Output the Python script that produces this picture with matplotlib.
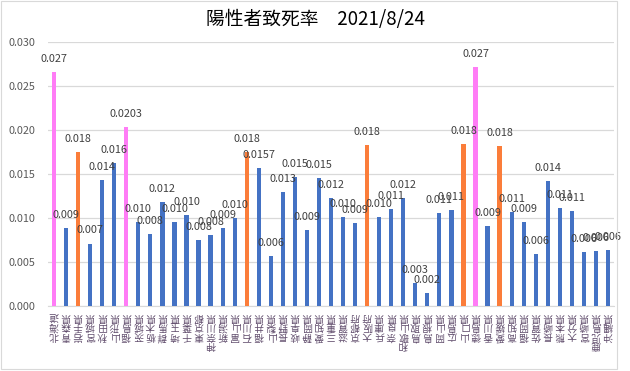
import matplotlib.pyplot as plt
from matplotlib.patches import Rectangle

plt.rcParams['font.family'] = ['Noto Sans CJK JP', 'DejaVu Sans']

prefs = ['北海道', '青森県', '岩手県', '宮城県', '秋田県', '山形県', '福島県',
         '茨城県', '栃木県', '群馬県', '埼玉県', '千葉県', '東京都', '神奈川県',
         '新潟県', '富山県', '石川県', '福井県', '山梨県', '長野県', '岐阜県',
         '静岡県', '愛知県', '三重県', '滋賀県', '京都府', '大阪府', '兵庫県',
         '奈良県', '和歌山県', '鳥取県', '島根県', '岡山県', '広島県', '山口県',
         '徳島県', '香川県', '愛媛県', '高知県', '福岡県', '佐賀県', '長崎県',
         '熊本県', '大分県', '宮崎県', '鹿児島県', '沖縄県']

rate = [0.0266, 0.0089, 0.0175, 0.0071, 0.0143, 0.0163, 0.0203,
        0.0095, 0.0082, 0.0118, 0.0095, 0.0103, 0.0075, 0.0081,
        0.0089, 0.0100, 0.0175, 0.0157, 0.0057, 0.0129, 0.0147,
        0.0086, 0.0145, 0.0123, 0.0101, 0.0094, 0.0183, 0.0101,
        0.0110, 0.0123, 0.0026, 0.0015, 0.0106, 0.0109, 0.0184,
        0.0272, 0.0091, 0.0182, 0.0107, 0.0095, 0.0059, 0.0142,
        0.0111, 0.0108, 0.0061, 0.0062, 0.0064]

labels = ['0.027', '0.009', '0.018', '0.007', '0.014', '0.016', '0.0203',
          '0.010', '0.008', '0.012', '0.010', '0.010', '0.008', '0.008',
          '0.009', '0.010', '0.018', '0.0157', '0.006', '0.013', '0.015',
          '0.009', '0.015', '0.012', '0.010', '0.009', '0.018', '0.010',
          '0.011', '0.012', '0.003', '0.002', '0.011', '0.011', '0.018',
          '0.027', '0.009', '0.018', '0.011', '0.009', '0.006', '0.014',
          '0.011', '0.011', '0.006', '0.006', '0.006']

# p = pink, o = orange, b = blue
group = ['p', 'b', 'o', 'b', 'b', 'b', 'p',
         'b', 'b', 'b', 'b', 'b', 'b', 'b',
         'b', 'b', 'o', 'b', 'b', 'b', 'b',
         'b', 'b', 'b', 'b', 'b', 'o', 'b',
         'b', 'b', 'b', 'b', 'b', 'b', 'o',
         'p', 'b', 'o', 'b', 'b', 'b', 'b',
         'b', 'b', 'b', 'b', 'b']

cmap = {'p': '#ff7cf6', 'o': '#fb7d3a', 'b': '#4472c4'}
colors = [cmap[g] for g in group]

fig = plt.figure(figsize=(6.3, 3.71), dpi=100)
ax = fig.add_axes([48 / 630, 65 / 371, 566 / 630, 264 / 371])

x = list(range(len(prefs)))
ax.bar(x, rate, width=0.35, color=colors, zorder=3)

for i, v in enumerate(rate):
    ax.annotate(labels[i], (i, v), xytext=(0, 9.4), textcoords='offset points',
                ha='center', va='center', fontsize=7.8, color='#404040', zorder=4)

ax.set_xlim(-0.5, len(prefs) - 0.5)
ax.set_ylim(0, 0.030)
ax.set_yticks([0, 0.005, 0.010, 0.015, 0.020, 0.025, 0.030])
ax.set_yticklabels(['%.3f' % t for t in ax.get_yticks()], fontsize=7.8, color='#595959')
ax.grid(axis='y', color='#d9d9d9', linewidth=0.9, zorder=0)
ax.tick_params(axis='both', length=0)
ax.tick_params(axis='y', pad=9)

ax.set_xticks(x)
ax.set_xticklabels(['\n'.join(p) for p in prefs], rotation=180, va='top',
                   ha='center', fontsize=7.0, color='#5f4b6b', linespacing=0.95)
ax.tick_params(axis='x', pad=4)

for s in ['left', 'right', 'top']:
    ax.spines[s].set_visible(False)
ax.spines['bottom'].set_color('#d9d9d9')

fig.text(316 / 630, 1 - 20 / 371, '陽性者致死率\u30002021/8/24', ha='center', va='center',
         fontsize=13.5, color='black')

fig.add_artist(Rectangle((1 / 630, 2 / 371), 616 / 630, 368 / 371, transform=fig.transFigure,
                         fill=False, edgecolor='#d9d9d9', linewidth=0.8))

fig.savefig('out.png', dpi=100)
